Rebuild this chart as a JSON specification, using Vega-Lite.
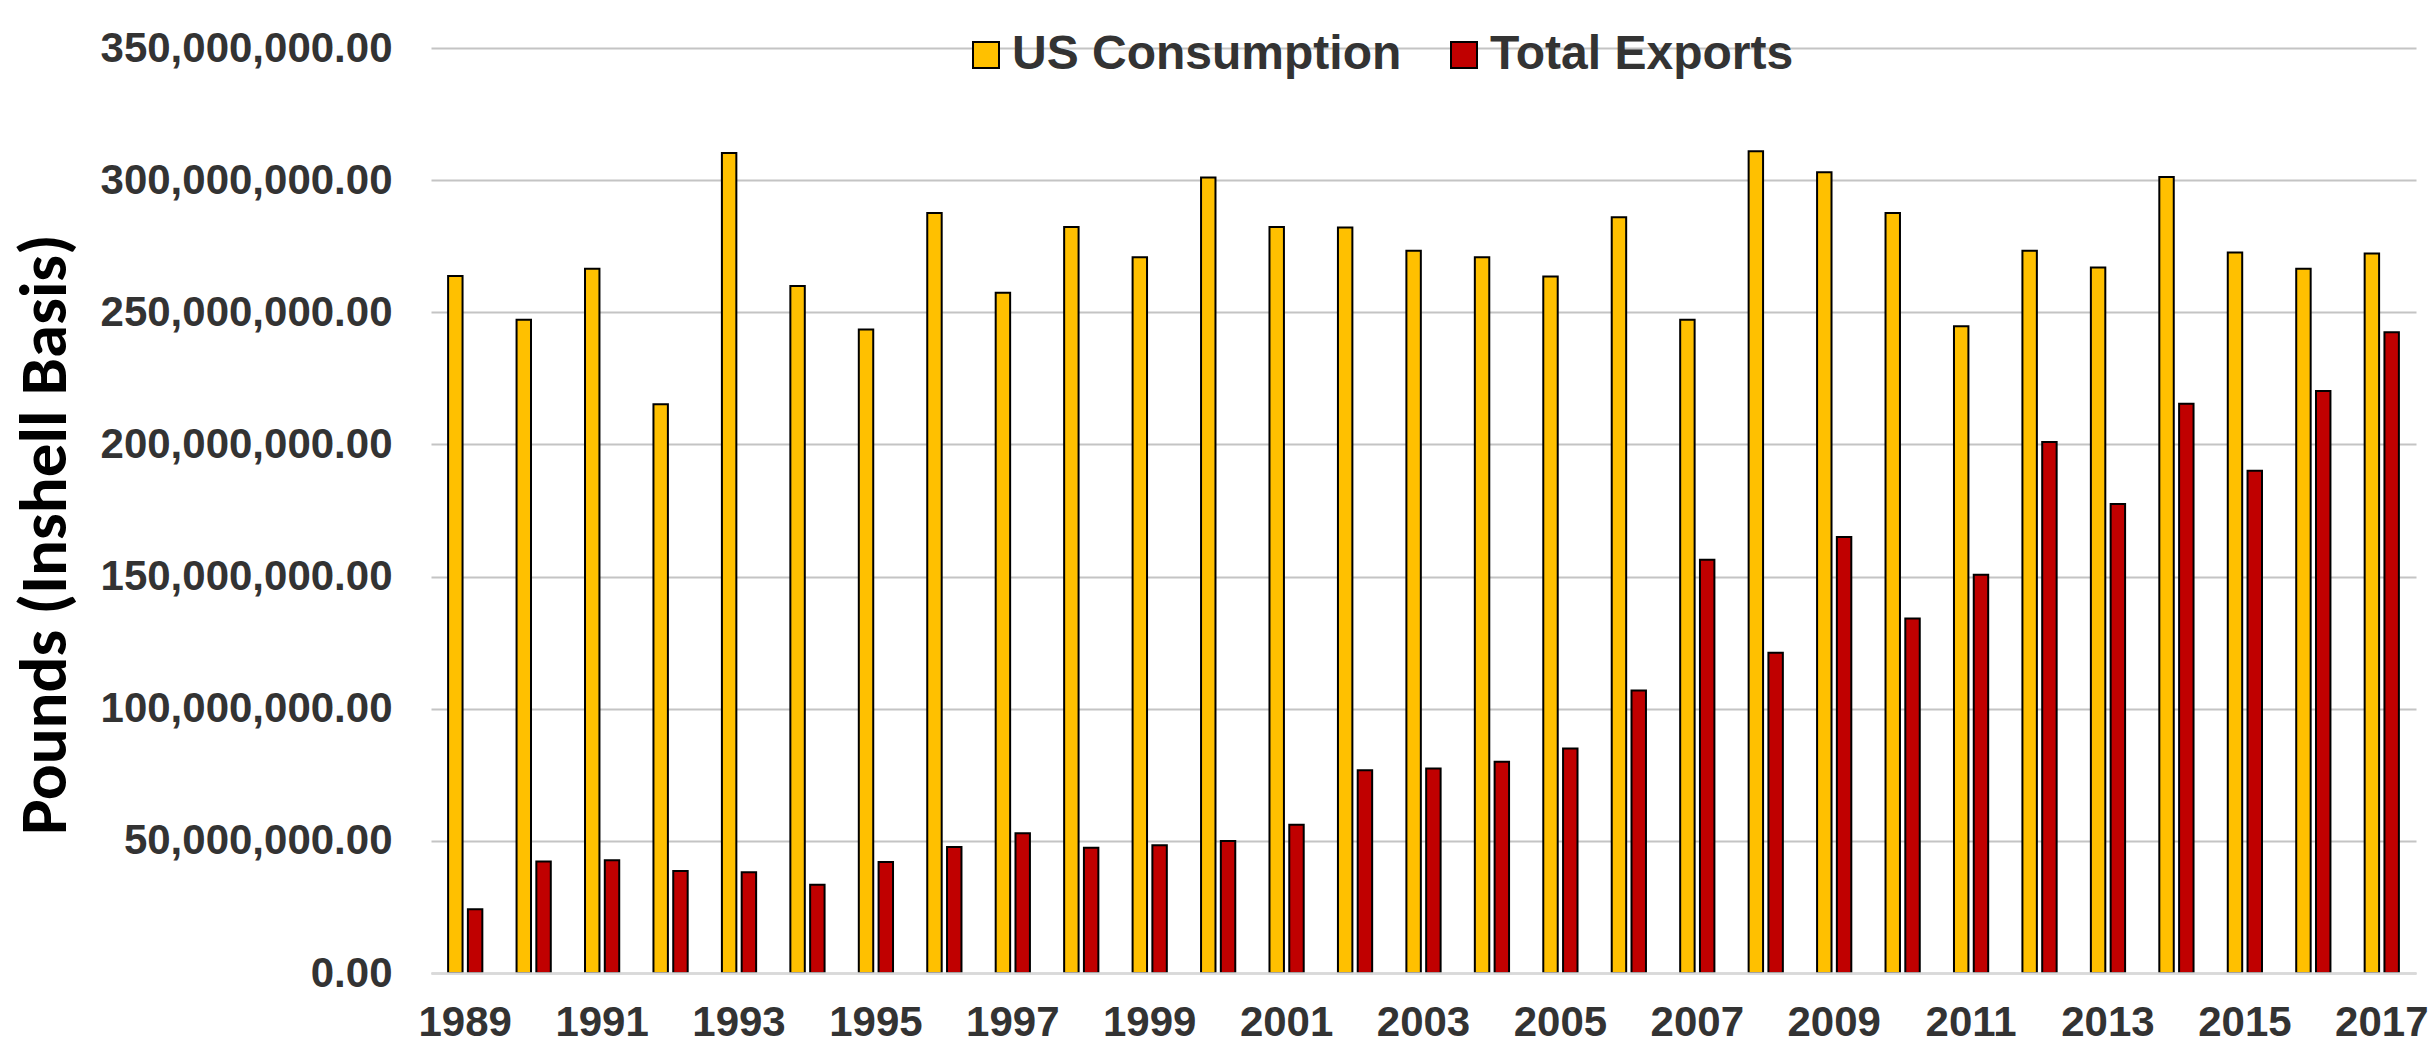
{
  "$schema": "https://vega.github.io/schema/vega-lite/v6.json",
  "width": 1985,
  "height": 925,
  "autosize": {"type": "none"},
  "padding": {"left": 431, "top": 48, "right": 16, "bottom": 71},
  "background": "white",
  "config": {"view": {"stroke": null}},
  "data": {"values": [
    {"year": 1989, "series": "US Consumption", "pounds": 263700000},
    {"year": 1990, "series": "US Consumption", "pounds": 247200000},
    {"year": 1991, "series": "US Consumption", "pounds": 266500000},
    {"year": 1992, "series": "US Consumption", "pounds": 215200000},
    {"year": 1993, "series": "US Consumption", "pounds": 310300000},
    {"year": 1994, "series": "US Consumption", "pounds": 259900000},
    {"year": 1995, "series": "US Consumption", "pounds": 243500000},
    {"year": 1996, "series": "US Consumption", "pounds": 287600000},
    {"year": 1997, "series": "US Consumption", "pounds": 257400000},
    {"year": 1998, "series": "US Consumption", "pounds": 282300000},
    {"year": 1999, "series": "US Consumption", "pounds": 270800000},
    {"year": 2000, "series": "US Consumption", "pounds": 301000000},
    {"year": 2001, "series": "US Consumption", "pounds": 282300000},
    {"year": 2002, "series": "US Consumption", "pounds": 282100000},
    {"year": 2003, "series": "US Consumption", "pounds": 273300000},
    {"year": 2004, "series": "US Consumption", "pounds": 270800000},
    {"year": 2005, "series": "US Consumption", "pounds": 263500000},
    {"year": 2006, "series": "US Consumption", "pounds": 286000000},
    {"year": 2007, "series": "US Consumption", "pounds": 247200000},
    {"year": 2008, "series": "US Consumption", "pounds": 310900000},
    {"year": 2009, "series": "US Consumption", "pounds": 303000000},
    {"year": 2010, "series": "US Consumption", "pounds": 287600000},
    {"year": 2011, "series": "US Consumption", "pounds": 244700000},
    {"year": 2012, "series": "US Consumption", "pounds": 273300000},
    {"year": 2013, "series": "US Consumption", "pounds": 266900000},
    {"year": 2014, "series": "US Consumption", "pounds": 301200000},
    {"year": 2015, "series": "US Consumption", "pounds": 272600000},
    {"year": 2016, "series": "US Consumption", "pounds": 266500000},
    {"year": 2017, "series": "US Consumption", "pounds": 272200000},
    {"year": 1989, "series": "Total Exports", "pounds": 24100000},
    {"year": 1990, "series": "Total Exports", "pounds": 42200000},
    {"year": 1991, "series": "Total Exports", "pounds": 42700000},
    {"year": 1992, "series": "Total Exports", "pounds": 38600000},
    {"year": 1993, "series": "Total Exports", "pounds": 38100000},
    {"year": 1994, "series": "Total Exports", "pounds": 33400000},
    {"year": 1995, "series": "Total Exports", "pounds": 42000000},
    {"year": 1996, "series": "Total Exports", "pounds": 47700000},
    {"year": 1997, "series": "Total Exports", "pounds": 52900000},
    {"year": 1998, "series": "Total Exports", "pounds": 47400000},
    {"year": 1999, "series": "Total Exports", "pounds": 48300000},
    {"year": 2000, "series": "Total Exports", "pounds": 49900000},
    {"year": 2001, "series": "Total Exports", "pounds": 56100000},
    {"year": 2002, "series": "Total Exports", "pounds": 76700000},
    {"year": 2003, "series": "Total Exports", "pounds": 77400000},
    {"year": 2004, "series": "Total Exports", "pounds": 79900000},
    {"year": 2005, "series": "Total Exports", "pounds": 84900000},
    {"year": 2006, "series": "Total Exports", "pounds": 106900000},
    {"year": 2007, "series": "Total Exports", "pounds": 156400000},
    {"year": 2008, "series": "Total Exports", "pounds": 121200000},
    {"year": 2009, "series": "Total Exports", "pounds": 165000000},
    {"year": 2010, "series": "Total Exports", "pounds": 134100000},
    {"year": 2011, "series": "Total Exports", "pounds": 150700000},
    {"year": 2012, "series": "Total Exports", "pounds": 200900000},
    {"year": 2013, "series": "Total Exports", "pounds": 177500000},
    {"year": 2014, "series": "Total Exports", "pounds": 215400000},
    {"year": 2015, "series": "Total Exports", "pounds": 190000000},
    {"year": 2016, "series": "Total Exports", "pounds": 220200000},
    {"year": 2017, "series": "Total Exports", "pounds": 242400000}
  ]},
  "mark": {"type": "bar", "stroke": "black", "strokeWidth": 2},
  "encoding": {
    "x": {
      "field": "year", "type": "ordinal",
      "scale": {"paddingInner": 0.5, "paddingOuter": 0.25},
      "axis": {
        "title": null,
        "values": [1989, 1991, 1993, 1995, 1997, 1999, 2001, 2003, 2005, 2007, 2009, 2011, 2013, 2015, 2017],
        "labelAngle": 0,
        "labelFont": "Liberation Sans",
        "labelFontWeight": "bold",
        "labelFontSize": 42,
        "labelColor": "#333333",
        "labelPadding": 29,
        "ticks": false,
        "grid": false,
        "domainColor": "#d9d9d9",
        "domainWidth": 2.5,
        "zindex": 1
      }
    },
    "xOffset": {
      "field": "series", "type": "nominal",
      "sort": ["US Consumption", "Total Exports"],
      "scale": {"paddingInner": 0.27, "paddingOuter": 0}
    },
    "y": {
      "field": "pounds", "type": "quantitative",
      "scale": {"domain": [0, 350000000], "nice": false},
      "axis": {
        "title": "Pounds (Inshell Basis)",
        "titleFont": "Carlito, Lato",
        "titleFontWeight": "bold",
        "titleFontSize": 67,
        "titleColor": "black",
        "titleAngle": -90,
        "titleAlign": "center",
        "titleBaseline": "alphabetic",
        "titleX": -366,
        "titleY": 486,
        "values": [0, 50000000, 100000000, 150000000, 200000000, 250000000, 300000000, 350000000],
        "format": ",.2f",
        "labelFont": "Liberation Sans",
        "labelFontWeight": "bold",
        "labelFontSize": 42,
        "labelColor": "#333333",
        "labelPadding": 39,
        "labelLimit": 400,
        "ticks": false,
        "domain": false,
        "gridColor": "#c4c4c4",
        "gridWidth": 2
      }
    },
    "color": {
      "field": "series", "type": "nominal",
      "sort": ["US Consumption", "Total Exports"],
      "scale": {"domain": ["US Consumption", "Total Exports"], "range": ["#FFC000", "#C00000"]},
      "legend": {
        "title": null,
        "orient": "none",
        "direction": "horizontal",
        "legendX": 531,
        "legendY": -17,
        "padding": 0,
        "symbolType": "square",
        "symbolSize": 676,
        "symbolStrokeColor": "black",
        "symbolStrokeWidth": 2,
        "symbolOpacity": 1,
        "labelFont": "Liberation Sans",
        "labelFontWeight": "bold",
        "labelFontSize": 48,
        "labelColor": "#333333",
        "labelOffset": 2,
        "labelLimit": 600,
        "columnPadding": 38
      }
    }
  }
}
